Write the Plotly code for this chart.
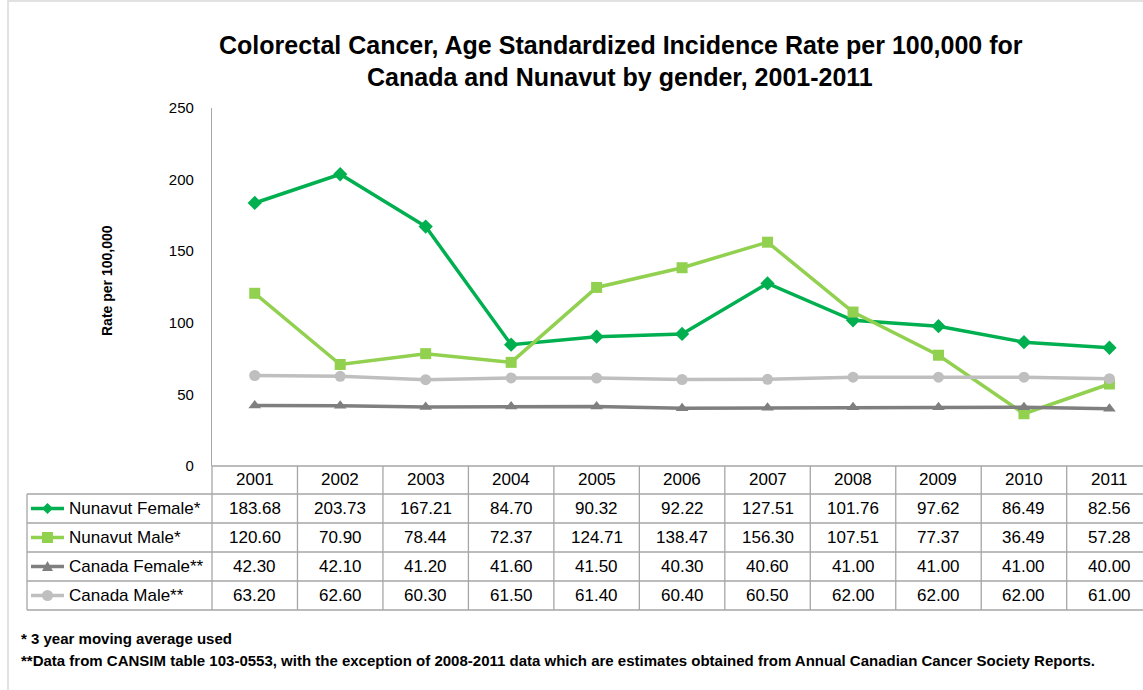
import plotly.graph_objects as go

years = ["2001", "2002", "2003", "2004", "2005", "2006", "2007", "2008", "2009", "2010", "2011"]
nunavut_female = [183.68, 203.73, 167.21, 84.70, 90.32, 92.22, 127.51, 101.76, 97.62, 86.49, 82.56]
nunavut_male = [120.60, 70.90, 78.44, 72.37, 124.71, 138.47, 156.30, 107.51, 77.37, 36.49, 57.28]
canada_female = [42.30, 42.10, 41.20, 41.60, 41.50, 40.30, 40.60, 41.00, 41.00, 41.00, 40.00]
canada_male = [63.20, 62.60, 60.30, 61.50, 61.40, 60.40, 60.50, 62.00, 62.00, 62.00, 61.00]
series_names = ["Nunavut Female*", "Nunavut Male*", "Canada Female**", "Canada Male**"]

W, H = 1143, 690
L, R, T, B = 212, 0, 108, 224
PW, PH = W - L - R, H - T - B
COLW = 85.47
XR = [-0.5, -0.5 + PW / COLW]
FONT = "Liberation Sans, Arial, sans-serif"
GRID = "#A6A6A6"

series = [
    (series_names[0], nunavut_female, "#00B050", "diamond", 11),
    (series_names[1], nunavut_male, "#92D050", "square", 11),
    (series_names[2], canada_female, "#7F7F7F", "triangle-up", 11),
    (series_names[3], canada_male, "#BFBFBF", "circle", 11),
]

xidx = list(range(len(years)))
fig = go.Figure()
for name, vals, col, sym, ms in series:
    fig.add_trace(go.Scatter(
        x=xidx, y=vals, mode="lines+markers", name=name,
        line=dict(color=col, width=3.5),
        marker=dict(symbol=sym, size=ms, color=col),
        showlegend=False, cliponaxis=False))


def px(xp):
    return (xp - L) / PW


def py(yp):
    return (H - B - yp) / PH


def col_x(i):
    return (i - XR[0]) / (XR[1] - XR[0])


shapes = []
annots = []
# outer frame
shapes.append(dict(type="rect", xref="paper", yref="paper", x0=px(8), x1=px(1160), y0=py(1), y1=py(700),
                   line=dict(color="#D9D9D9", width=1.5)))

# table geometry
row_edges = [466, 494, 523, 552, 581, 610]
left_edge = 27
n = len(years)
col_edges = [col_x(i - 0.5) for i in range(n + 1)]
for k, yy in enumerate(row_edges):
    x0 = px(L) if k == 0 else px(left_edge)
    shapes.append(dict(type="line", xref="paper", yref="paper", x0=x0, x1=col_edges[-1], y0=py(yy), y1=py(yy),
                       line=dict(color=GRID, width=1.3)))
for k, xx in enumerate(col_edges):
    shapes.append(dict(type="line", xref="paper", yref="paper", x0=xx, x1=xx, y0=py(row_edges[0]), y1=py(row_edges[-1]),
                       line=dict(color=GRID, width=1.3)))
shapes.append(dict(type="line", xref="paper", yref="paper", x0=px(left_edge), x1=px(left_edge),
                   y0=py(row_edges[1]), y1=py(row_edges[-1]), line=dict(color=GRID, width=1.3)))

TF = dict(family=FONT, size=17, color="#000000")
for i, yr in enumerate(years):
    annots.append(dict(xref="paper", yref="paper", x=col_x(i), y=py((row_edges[0] + row_edges[1]) / 2),
                       text=yr, showarrow=False, font=TF, xanchor="center", yanchor="middle"))
for r, (name, vals, col, sym, ms) in enumerate(series):
    yc = (row_edges[r + 1] + row_edges[r + 2]) / 2
    for i, v in enumerate(vals):
        annots.append(dict(xref="paper", yref="paper", x=col_x(i), y=py(yc), text=f"{v:.2f}",
                           showarrow=False, font=TF, xanchor="center", yanchor="middle"))
    annots.append(dict(xref="paper", yref="paper", x=px(67), y=py(yc), text=name, showarrow=False,
                       font=TF, xanchor="left", yanchor="middle"))
    shapes.append(dict(type="line", xref="paper", yref="paper", x0=px(31), x1=px(64), y0=py(yc), y1=py(yc),
                       line=dict(color=col, width=3.5)))
    cx, cy, s = 47.5, yc, 5.5
    if sym == "diamond":
        pts = [(cx, cy - s), (cx + s, cy), (cx, cy + s), (cx - s, cy)]
    elif sym == "square":
        pts = [(cx - s, cy - s), (cx + s, cy - s), (cx + s, cy + s), (cx - s, cy + s)]
    elif sym == "triangle-up":
        pts = [(cx, cy - s), (cx + s, cy + s * 0.8), (cx - s, cy + s * 0.8)]
    else:
        pts = None
    if pts:
        path = "M " + " L ".join(f"{px(a)},{py(b)}" for a, b in pts) + " Z"
        shapes.append(dict(type="path", xref="paper", yref="paper", path=path,
                           fillcolor=col, line=dict(color=col, width=0)))
    else:
        shapes.append(dict(type="circle", xref="paper", yref="paper", x0=px(cx - s), x1=px(cx + s),
                           y0=py(cy - s), y1=py(cy + s), fillcolor=col, line=dict(color=col, width=0)))

TITLE_F = dict(family=FONT, size=25, color="#000000")
annots.append(dict(xref="paper", yref="paper", x=px(621), y=py(45), showarrow=False,
                   text="<b>Colorectal Cancer, Age Standardized Incidence Rate per 100,000 for</b>",
                   font=TITLE_F, xanchor="center", yanchor="middle"))
annots.append(dict(xref="paper", yref="paper", x=px(620), y=py(77), showarrow=False,
                   text="<b>Canada and Nunavut by gender, 2001-2011</b>",
                   font=TITLE_F, xanchor="center", yanchor="middle"))
annots.append(dict(xref="paper", yref="paper", x=px(107), y=py(281), showarrow=False, textangle=-90,
                   text="<b>Rate per 100,000</b>", font=dict(family=FONT, size=14, color="#000000"),
                   xanchor="center", yanchor="middle"))
FN = dict(family=FONT, size=15, color="#000000")
annots.append(dict(xref="paper", yref="paper", x=px(19), y=py(638), showarrow=False,
                   text="<b>* 3 year moving average used</b>", font=FN, xanchor="left", yanchor="middle"))
annots.append(dict(xref="paper", yref="paper", x=px(19), y=py(660), showarrow=False,
                   text="<b>**Data from CANSIM table 103-0553, with the exception of 2008-2011 data which are estimates obtained from Annual Canadian Cancer Society Reports.</b>",
                   font=FN, xanchor="left", yanchor="middle"))

fig.update_layout(
    width=W, height=H, margin=dict(l=L, r=R, t=T, b=B, autoexpand=False),
    paper_bgcolor="white", plot_bgcolor="white",
    shapes=shapes, annotations=annots,
    xaxis=dict(range=XR, showticklabels=False, showgrid=False, zeroline=False, showline=False, ticks=""),
    yaxis=dict(range=[0, 250], dtick=50, tick0=0, showgrid=False, zeroline=False, showline=True,
               linecolor=GRID, linewidth=1.3, ticks="outside", ticklen=14, tickcolor="rgba(0,0,0,0)",
               tickfont=dict(family=FONT, size=15, color="#000000")),
)
fig.write_html("out.html")
